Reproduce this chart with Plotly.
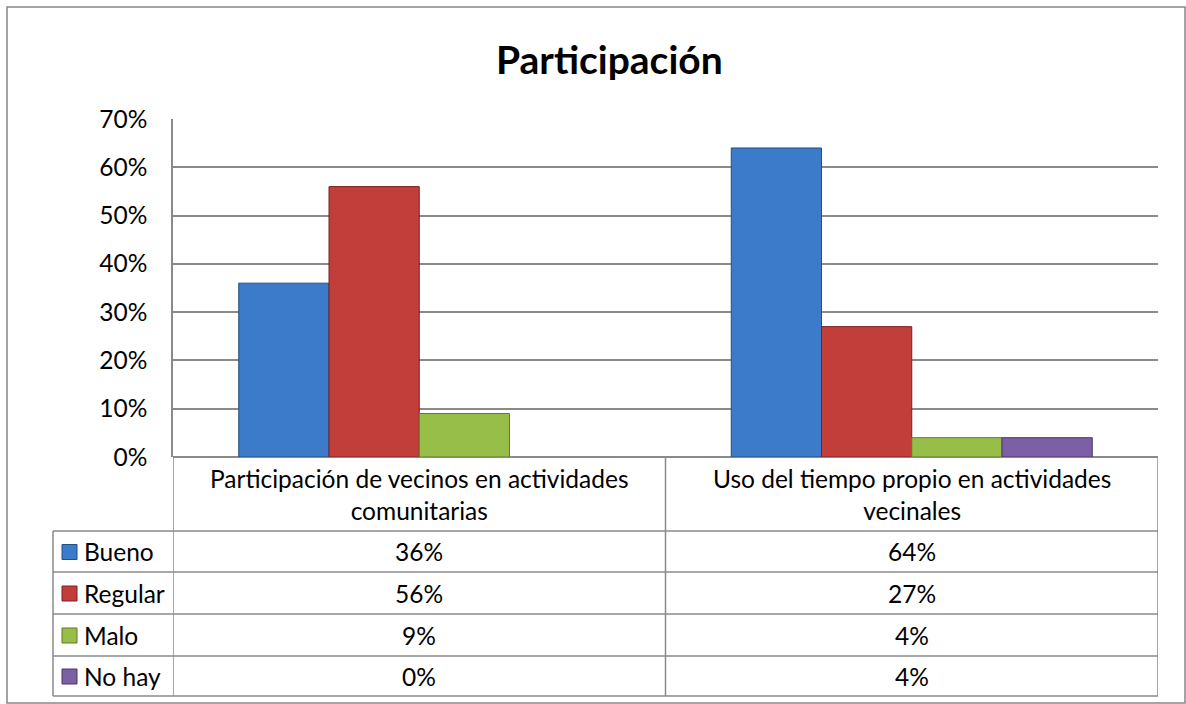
import plotly.graph_objects as go

categories = ["Participación de vecinos en actividades<br>comunitarias",
              "Uso del tiempo propio en actividades<br>vecinales"]
series_names = ["Bueno", "Regular", "Malo", "No hay"]
bueno = [0.36, 0.64]
regular = [0.56, 0.27]
malo = [0.09, 0.04]
no_hay = [0.00, 0.04]
series_values = [bueno, regular, malo, no_hay]
colors = ["#3B7BC9", "#C23E3B", "#98BE4A", "#7D5FA6"]
edge_colors = ["#24507F", "#7A2220", "#5F7A2A", "#4B3668"]

W, H = 1186, 704
ML, MR, MT, MB = 173, 28, 119, 8
PW = W - ML - MR
PH = H - MT - MB
BASE = 457
ROWS = [531, 572, 614, 656, 696]
LEG_L = 53
FONT = "Lato"
FS = 24.5
GRID = "#8A8A8A"


def px(p):
    return (p - ML) / PW


def py(p):
    return (H - MB - p) / PH


x_idx = list(range(len(categories)))

fig = go.Figure()
for name, vals, c, ec in zip(series_names, series_values, colors, edge_colors):
    fig.add_trace(go.Bar(
        x=x_idx, y=vals, name=name,
        marker=dict(color=c, line=dict(color=ec, width=[1 if v > 0 else 0 for v in vals])),
        showlegend=False,
    ))

shapes = []
line = dict(color=GRID, width=1.5)
# table horizontal lines
for r in ROWS:
    shapes.append(dict(type="line", xref="paper", yref="paper",
                       x0=px(LEG_L), x1=1, y0=py(r), y1=py(r), line=line))
# vertical lines of table columns
for k in range(len(categories) + 1):
    shapes.append(dict(type="line", xref="x", yref="paper",
                       x0=k - 0.5, x1=k - 0.5, y0=py(BASE), y1=py(ROWS[-1]), line=line))
shapes.append(dict(type="line", xref="paper", yref="paper",
                   x0=px(LEG_L), x1=px(LEG_L), y0=py(ROWS[0]), y1=py(ROWS[-1]), line=line))
# outer chart border
shapes.append(dict(type="rect", xref="paper", yref="paper",
                   x0=px(7), x1=px(1185), y0=py(7), y1=py(703),
                   line=dict(color="#868686", width=1.5)))

annotations = []
annotations.append(dict(text="<b>Participación</b>", xref="paper", yref="paper",
                        x=px(609), y=py(59), xanchor="center", yanchor="middle",
                        showarrow=False,
                        font=dict(family=FONT, size=39, color="black")))
for i, cat in enumerate(categories):
    annotations.append(dict(text=cat, xref="x", yref="paper", x=i,
                            y=py((BASE + ROWS[0]) / 2), xanchor="center", yanchor="middle",
                            showarrow=False,
                            font=dict(family=FONT, size=FS, color="black")))
for j, (name, vals, c, ec) in enumerate(zip(series_names, series_values, colors, edge_colors)):
    ymid = (ROWS[j] + ROWS[j + 1]) / 2
    for i, v in enumerate(vals):
        annotations.append(dict(text=f"{v:.0%}", xref="x", yref="paper", x=i,
                                y=py(ymid), xanchor="center", yanchor="middle",
                                showarrow=False,
                                font=dict(family=FONT, size=FS, color="black")))
    annotations.append(dict(text=name, xref="paper", yref="paper", x=px(82),
                            y=py(ymid), xanchor="left", yanchor="middle", showarrow=False,
                            font=dict(family=FONT, size=FS, color="black")))
    shapes.append(dict(type="rect", xref="paper", yref="paper",
                       x0=px(62), x1=px(77), y0=py(ymid - 7), y1=py(ymid + 8),
                       fillcolor=c, line=dict(color=ec, width=1)))

fig.update_layout(
    width=W, height=H,
    margin=dict(l=ML, r=MR, t=MT, b=MB),
    paper_bgcolor="white", plot_bgcolor="white",
    barmode="group", bargap=0.267, bargroupgap=0,
    font=dict(family=FONT, size=FS, color="black"),
    xaxis=dict(range=[-0.5, 1.5], showticklabels=False, showgrid=False, automargin=False,
               zeroline=False, showline=False, ticks="", fixedrange=True),
    yaxis=dict(range=[0, 0.7], dtick=0.1, tickformat=".0%", automargin=False,
               domain=[py(BASE), 1], showgrid=True, gridcolor=GRID, gridwidth=1.5,
               zeroline=True, zerolinecolor=GRID, zerolinewidth=1.5,
               showline=True, linecolor=GRID, linewidth=1.5,
               ticks="", ticklabelstandoff=19,
               tickfont=dict(family=FONT, size=FS), fixedrange=True),
    shapes=shapes,
    annotations=annotations,
)

page_css = """
var s = document.createElement('style');
s.textContent = 'html,body{margin:0;padding:0;overflow:hidden;height:704px;}';
document.head.appendChild(s);
"""
fig.write_html("out.html", config={"displayModeBar": False}, post_script=page_css)
